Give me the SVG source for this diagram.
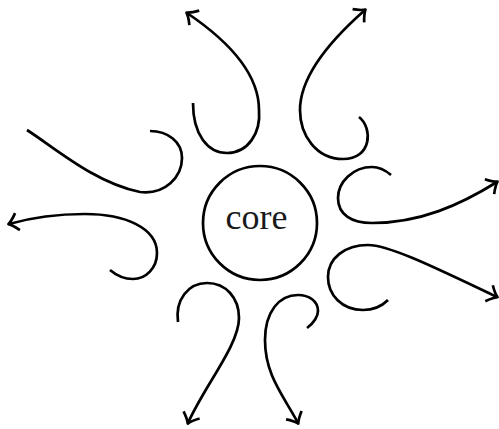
<svg xmlns="http://www.w3.org/2000/svg" width="499" height="429" viewBox="0 0 499 429">
<style>
.c{fill:none;stroke:#000;stroke-width:2.7;stroke-linecap:butt;stroke-linejoin:round}
.a{marker-end:url(#arr)}
.t{font-family:"Liberation Serif","DejaVu Serif",serif;font-size:36px;fill:#1a1a1a}
</style>
<defs>
<marker id="arr" markerUnits="userSpaceOnUse" markerWidth="24" markerHeight="24" viewBox="-12 -12 24 24" refX="0" refY="0" orient="auto" overflow="visible">
<path d="M-8.8,-8.8 C-5.7,-5 -2.3,-1.7 0.6,0 C-2.3,1.7 -5.7,5 -8.8,8.8" fill="none" stroke="#000" stroke-width="2.7" stroke-linejoin="round"/>
</marker>
</defs>
<rect width="499" height="429" fill="#fff"/>
<g id="core">
<circle class="c" cx="260" cy="223" r="57"/>
<text class="t" x="256.5" y="229" text-anchor="middle">core</text>
</g>
<g id="connectors">
<path class="c a" d="M193,103 C193,135 208,153 227,153 C248,153 261,133 259,110 C259,75 230,42 187,13"/>
<path class="c a" d="M359,117 C373,128 372,159 343,159 C316,159 300,135 300,110 C300,75 332,39 365,10"/>
<path class="c a" d="M391,175 C384,169 378,167 372,167 C353,167 338,182 338,198 C338,215 352,223 372,223 C420,223 460,205 497,182"/>
<path class="c a" d="M388,300 C381,307 372,310 363,310 C342,310 328,295 328,277 C328,258 345,245 368,245 C390,245 440,270 497,297"/>
<path class="c a" d="M307,328 C314,323 318,316 318,311 C318,301 309,295 298,295 C279,295 265,312 265,340 C265,375 283,395 298,423"/>
<path class="c a" d="M178,322 C175,300 188,283 207,283 C226,283 239,298 239,318 C239,345 205,385 188,423"/>
<path class="c a" d="M110,270 C117,276 125,279 133,279 C146,279 157,268 157,253 C157,228 125,214 85,214 C55,214 30,218 9,224"/>
<path class="c" d="M27,130 C55,148 95,183 140,192 C165,195 182,177 182,158 C182,142 168,131 150,131"/>
</g>
</svg>
